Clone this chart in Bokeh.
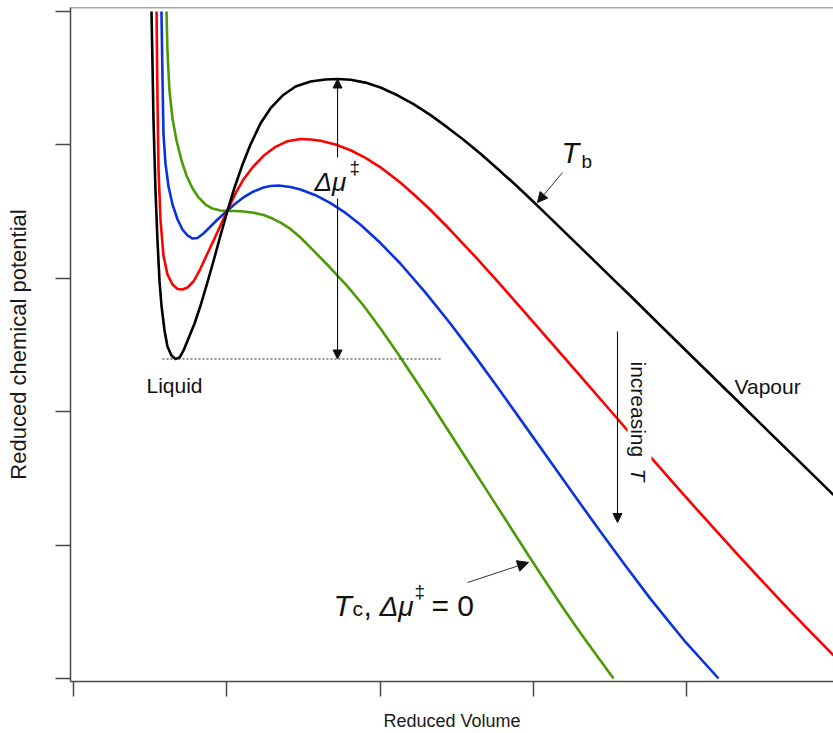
import numpy as np
from bokeh.plotting import figure
from bokeh.models import (Range1d, FixedTicker, Label, Arrow, NormalHead, Span,
                          BoxAnnotation)
from bokeh.embed import file_html
from bokeh.resources import INLINE

# ---- data (arbitrary reduced units; one tick = one unit) ----
x_ticks = [0, 1, 2, 3, 4]
y_ticks = [0, 1, 2, 3, 4, 5]

black_x = [0.509, 0.515, 0.522, 0.535, 0.548, 0.561, 0.574, 0.594, 0.613, 0.639,
           0.666, 0.692, 0.718, 0.750, 0.790, 0.829, 0.874, 0.920, 0.959, 1.005,
           1.051, 1.103, 1.155, 1.220, 1.285, 1.364, 1.449, 1.547, 1.644, 1.723,
           1.808, 1.905, 2.003, 2.114, 2.219, 2.330, 2.440, 2.545, 2.656, 2.767,
           2.871, 2.982, 3.093, 3.197, 3.308, 3.419, 3.524, 3.635, 3.863, 4.091,
           4.320, 4.548, 4.744, 4.959]
black_y = [5.000, 4.633, 4.183, 3.658, 3.283, 2.984, 2.796, 2.609, 2.489, 2.421,
           2.395, 2.406, 2.459, 2.549, 2.661, 2.796, 2.969, 3.156, 3.321, 3.508,
           3.681, 3.853, 4.003, 4.160, 4.273, 4.370, 4.438, 4.475, 4.490, 4.494,
           4.488, 4.467, 4.430, 4.372, 4.306, 4.223, 4.131, 4.038, 3.933, 3.822,
           3.714, 3.595, 3.472, 3.355, 3.232, 3.108, 2.990, 2.867, 2.609, 2.352,
           2.095, 1.838, 1.618, 1.376]

red_x = [0.542, 0.548, 0.555, 0.568, 0.587, 0.613, 0.646, 0.679, 0.711, 0.744,
         0.783, 0.829, 0.874, 0.914, 0.959, 1.005, 1.057, 1.109, 1.168, 1.240,
         1.312, 1.396, 1.481, 1.547, 1.612, 1.710, 1.808, 1.905, 2.003, 2.134,
         2.232, 2.330, 2.460, 2.623, 2.786, 2.949, 3.113, 3.308, 3.504, 3.765,
         3.928, 4.091, 4.352, 4.613, 4.777, 4.959]
red_y = [5.000, 4.333, 3.808, 3.433, 3.171, 3.029, 2.954, 2.920, 2.916, 2.931,
         2.976, 3.073, 3.186, 3.283, 3.396, 3.508, 3.636, 3.741, 3.831, 3.918,
         3.981, 4.028, 4.044, 4.041, 4.031, 4.003, 3.960, 3.903, 3.832, 3.716,
         3.617, 3.512, 3.360, 3.160, 2.952, 2.739, 2.524, 2.266, 2.007, 1.662,
         1.448, 1.237, 0.906, 0.583, 0.387, 0.174]

blue_x = [0.574, 0.581, 0.587, 0.600, 0.620, 0.646, 0.679, 0.711, 0.744, 0.777,
          0.809, 0.848, 0.894, 0.940, 1.005, 1.057, 1.109, 1.175, 1.240, 1.285,
          1.338, 1.416, 1.481, 1.579, 1.677, 1.775, 1.873, 2.003, 2.134, 2.297,
          2.460, 2.623, 2.786, 2.949, 3.113, 3.276, 3.439, 3.602, 3.765, 3.993,
          4.209]
blue_y = [5.000, 4.483, 4.086, 3.861, 3.688, 3.553, 3.441, 3.366, 3.321, 3.298,
          3.302, 3.336, 3.388, 3.441, 3.508, 3.561, 3.606, 3.651, 3.681, 3.692,
          3.696, 3.684, 3.666, 3.623, 3.564, 3.490, 3.401, 3.264, 3.109, 2.893,
          2.659, 2.411, 2.153, 1.890, 1.624, 1.360, 1.100, 0.845, 0.597, 0.274,
          0.000]

green_x = [0.607, 0.613, 0.626, 0.646, 0.672, 0.705, 0.737, 0.777, 0.816, 0.861,
           0.907, 0.959, 1.005, 1.057, 1.109, 1.175, 1.240, 1.299, 1.351, 1.416,
           1.481, 1.566, 1.677, 1.788, 1.892, 2.003, 2.114, 2.219, 2.330, 2.440,
           2.545, 2.656, 2.767, 2.871, 2.982, 3.093, 3.197, 3.308, 3.419, 3.524]
green_y = [5.000, 4.708, 4.408, 4.198, 4.033, 3.883, 3.771, 3.673, 3.606, 3.553,
           3.523, 3.508, 3.505, 3.505, 3.501, 3.491, 3.475, 3.448, 3.418, 3.370,
           3.306, 3.208, 3.077, 2.939, 2.796, 2.624, 2.440, 2.258, 2.065, 1.868,
           1.681, 1.483, 1.285, 1.098, 0.900, 0.705, 0.525, 0.341, 0.165, 0.000]

# ---- layout helpers (pixel -> data, for annotation placement) ----
def dx(px):
    return (px - 73) / 153.25

def dy(py):
    return (678 - py) / 133.4

FONT = "Liberation Sans"
AX = "#4a4a4a"

p = figure(width=833, height=733, output_backend="svg", toolbar_location=None,
           x_range=Range1d(dx(70), dx(833)), y_range=Range1d(dy(681), dy(7)),
           min_border_left=70, min_border_right=0, min_border_top=7,
           min_border_bottom=52, title=None)
p.outline_line_color = None
p.grid.visible = False
p.background_fill_color = "white"
p.border_fill_color = "white"

for ax, ticks in ((p.xaxis, x_ticks), (p.yaxis, y_ticks)):
    ax.ticker = FixedTicker(ticks=ticks)
    ax.major_tick_out = 15
    ax.major_tick_in = 0
    ax.minor_tick_line_color = None
    ax.major_label_text_font_size = "0px"
    ax.major_label_text_color = None
    ax.major_label_standoff = 0
    ax.axis_line_color = AX
    ax.axis_line_width = 1.5
    ax.major_tick_line_color = AX
    ax.major_tick_line_width = 1.5
    ax.axis_label_text_font = FONT
    ax.axis_label_text_font_style = "normal"
    ax.axis_label_text_color = "#1a1a1a"

p.xaxis.axis_label = "Reduced Volume"
p.xaxis.axis_label_text_font_size = "18px"
p.xaxis.axis_label_standoff = 14
p.yaxis.axis_label = "Reduced chemical potential"
p.yaxis.axis_label_text_font_size = "22px"
p.yaxis.axis_label_standoff = 25

# top border of the box
p.add_layout(Span(location=dy(7), dimension="width", line_color=AX, line_width=1.5))

# ---- curves ----
for xs, ys, col in ((green_x, green_y, "#4c9a06"), (blue_x, blue_y, "#0a32e0"),
                    (red_x, red_y, "#ff0000"), (black_x, black_y, "#000000")):
    p.line(xs, ys, line_color=col, line_width=2.6, line_join="round")

# liquid minimum and barrier top of the T_b curve
liq_i = min(range(len(black_y)), key=lambda i: black_y[i] if black_x[i] < 1 else 99)
top_i = max(range(len(black_y)), key=lambda i: black_y[i] if black_x[i] > 1 else -99)
ymin, ymax, xpk = black_y[liq_i], black_y[top_i], black_x[top_i]

p.segment(x0=[dx(162)], y0=[ymin], x1=[dx(440)], y1=[ymin],
          line_color="#222222", line_width=1, line_dash="2 2")


def head(sz):
    return NormalHead(size=sz, fill_color="#111111", line_color="#111111", line_width=1)

# Delta mu arrows (split around the label)
p.add_layout(Arrow(x_start=xpk, y_start=dy(157), x_end=xpk, y_end=ymax,
                   end=head(9), line_color="#111111", line_width=1.1))
p.add_layout(Arrow(x_start=xpk, y_start=dy(198), x_end=xpk, y_end=ymin,
                   end=head(9), line_color="#111111", line_width=1.1))
# increasing T arrow
p.add_layout(Arrow(x_start=dx(617), y_start=dy(331), x_end=dx(617), y_end=dy(522),
                   end=head(9), line_color="#111111", line_width=1.1))
# T_b arrow
p.add_layout(Arrow(x_start=dx(562), y_start=dy(172), x_end=dx(537), y_end=dy(202),
                   end=head(10), line_color="#333333", line_width=1))
# T_c arrow
p.add_layout(Arrow(x_start=dx(467), y_start=dy(582), x_end=dx(528), y_end=dy(562),
                   end=head(11), line_color="#333333", line_width=1))

# white backing behind the rotated "increasing T" text (breaks the red line)
p.add_layout(BoxAnnotation(left=dx(627), right=dx(651), top=dy(359), bottom=dy(488),
                           fill_color="white", fill_alpha=1.0, line_color=None))


def lab(text, px, py, size, style="normal", rot=False, **kw):
    # (px, py) = wanted baseline start in screen pixels
    if rot:
        x, y, ang = dx(px + 0.33 * size), dy(py), -np.pi / 2
    else:
        x, y, ang = dx(px), dy(py - 0.33 * size), 0
    p.add_layout(Label(x=x, y=y, angle=ang, text=text, text_font=FONT,
                       text_font_size=f"{size}px", text_font_style=style,
                       text_color="#111111", text_align="left",
                       text_baseline="alphabetic", **kw))

lab("Liquid", 146, 392, 21)
lab("Vapour", 734, 393, 21)

# Delta mu double-dagger label
lab("\u0394\u03bc", 314, 190, 26, "italic")
lab("\u2021", 349, 173, 19)

# T_b
lab("T", 561, 162, 29, "italic")
lab("b", 581, 167, 19)

# T_c, Delta mu = 0
lab("T", 333, 615, 30, "italic")
lab("c", 352, 615, 21)
lab(",", 363, 615, 30)
lab("\u0394\u03bc", 379, 615, 28, "italic")
lab("\u2021", 414, 597, 19)
lab("= 0", 431, 615, 30)

# increasing T (rotated)
lab("increasing ", 631, 361, 21, rot=True)
lab("T", 631, 468, 21, "italic", rot=True)

open("out.html", "w").write(file_html(p, INLINE))
